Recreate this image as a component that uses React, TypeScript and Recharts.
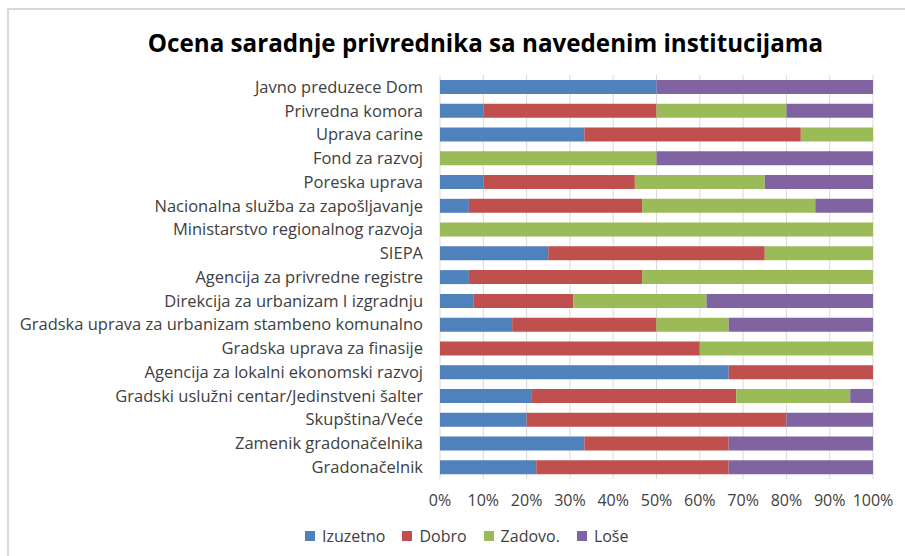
import React from 'react';
import { BarChart, Bar, XAxis, YAxis, CartesianGrid } from 'recharts';

const categories = [
  'Javno preduzece Dom',
  'Privredna komora',
  'Uprava carine',
  'Fond za razvoj',
  'Poreska uprava',
  'Nacionalna služba za zapošljavanje',
  'Ministarstvo regionalnog razvoja',
  'SIEPA',
  'Agencija za privredne registre',
  'Direkcija za urbanizam I izgradnju',
  'Gradska uprava za urbanizam stambeno komunalno',
  'Gradska uprava za finasije',
  'Agencija za lokalni ekonomski razvoj',
  'Gradski uslužni centar/Jedinstveni šalter',
  'Skupština/Veće',
  'Zamenik gradonačelnika',
  'Gradonačelnik',
];

const izuzetno = [50, 10, 33.33, 0, 10, 6.67, 0, 25, 6.67, 7.69, 16.67, 0, 66.67, 21.05, 20, 33.33, 22.22];
const dobro = [0, 40, 50, 0, 35, 40, 0, 50, 40, 23.08, 33.33, 60, 33.33, 47.37, 60, 33.33, 44.44];
const zadovo = [0, 30, 16.67, 50, 30, 40, 100, 25, 53.33, 30.77, 16.67, 40, 0, 26.32, 0, 0, 0];
const lose = [50, 20, 0, 50, 25, 13.33, 0, 0, 0, 38.46, 33.33, 0, 0, 5.26, 20, 33.33, 33.33];

const seriesNames = ['Izuzetno', 'Dobro', 'Zadovo.', 'Loše'];
const seriesColors = ['#4f81bd', '#c0504d', '#9bbb59', '#8064a2'];

const percentTicks = [0, 0.1, 0.2, 0.3, 0.4, 0.5, 0.6, 0.7, 0.8, 0.9, 1];

const data = categories.map((name, i) => ({
  name,
  Izuzetno: izuzetno[i],
  Dobro: dobro[i],
  'Zadovo.': zadovo[i],
  'Loše': lose[i],
}));

const FONT = '"Open Sans", sans-serif';
const TEXT = '#404040';

const App: React.FC = () => {
  return (
    <div style={{ position: 'absolute', left: 0, top: 0, width: 905, height: 556, background: '#fff', fontFamily: FONT }}>
      <div style={{ position: 'absolute', left: 7, top: 8, width: 905, height: 556, borderLeft: '2px solid #d9d9d9', borderTop: '2px solid #d9d9d9' }} />
      <div style={{ position: 'absolute', left: 0, top: 27, width: 971, textAlign: 'center', fontSize: 24.2, fontWeight: 700, color: '#000', lineHeight: '32px' }}>
        Ocena saradnje privrednika sa navedenim institucijama
      </div>
      <div style={{ position: 'absolute', left: 0, top: 0 }}>
        <BarChart
          width={905}
          height={556}
          data={data}
          layout="vertical"
          stackOffset="expand"
          barSize={14}
          margin={{ top: 75, right: 32, bottom: 47, left: 0 }}
        >
          <CartesianGrid horizontal={false} stroke="#d9d9d9" />
          <XAxis
            type="number"
            domain={[0, 1]}
            ticks={percentTicks}
            tickFormatter={(v: number) => `${Math.round(v * 100)}%`}
            axisLine={false}
            tickLine={false}
            tickMargin={10}
            height={30}
            tick={{ fill: TEXT, fontSize: 16, fontFamily: FONT }}
            interval={0}
          />
          <YAxis
            type="category"
            dataKey="name"
            width={440}
            axisLine={false}
            tickLine={false}
            tickMargin={11}
            interval={0}
            tick={{ fill: TEXT, fontSize: 16.5, fontFamily: FONT }}
          />
          {seriesNames.map((s, i) => (
            <Bar key={s} dataKey={s} stackId="a" fill={seriesColors[i]} isAnimationActive={false} />
          ))}
        </BarChart>
      </div>
      <div style={{ position: 'absolute', left: 305, top: 525, display: 'flex', fontSize: 16, color: TEXT }}>
        {seriesNames.map((s, i) => (
          <div key={s} style={{ display: 'flex', alignItems: 'center', marginRight: 17 }}>
            <span style={{ width: 10, height: 10, background: seriesColors[i], display: 'inline-block', marginRight: 7 }} />
            <span>{s}</span>
          </div>
        ))}
      </div>
    </div>
  );
};

export default App;
